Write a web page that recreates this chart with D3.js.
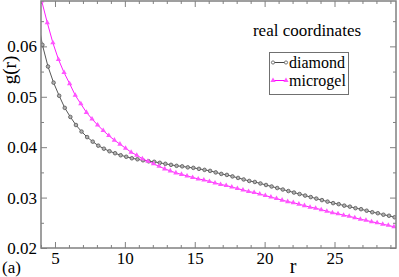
<!DOCTYPE html>
<html>
<meta charset="utf-8">
<head>
<script src="https://cdn.jsdelivr.net/npm/d3@7"></script>
<style>
  body { margin: 0; background: #fff; }
  svg text { font-family: "Liberation Serif", "Times New Roman", "DejaVu Serif", serif !important; fill: #000; }
</style>
</head>
<body>
<div id="chart"></div>
<script>
// g(r) curves
var rDiamond = [3.7, 4.1, 4.5, 4.9, 5.3, 5.7, 6.1, 6.5, 6.9, 7.3, 7.7, 8.1, 8.5, 8.9, 9.3, 9.7,
  10.1, 10.5, 10.9, 11.3, 11.7, 12.1, 12.5, 12.9, 13.3, 13.7, 14.1, 14.5, 14.9, 15.3, 15.7, 16.1,
  16.5, 16.9, 17.3, 17.7, 18.1, 18.5, 18.9, 19.3, 19.7, 20.1, 20.5, 20.9, 21.3, 21.7, 22.1, 22.5,
  22.9, 23.3, 23.7, 24.1, 24.5, 24.9, 25.3, 25.7, 26.1, 26.5, 26.9, 27.3, 27.7, 28.1, 28.5, 28.9, 29.3];
var gDiamond = [0.0662, 0.0603, 0.0560, 0.0528, 0.0502, 0.0478, 0.0460, 0.0444, 0.0431, 0.0420, 0.0411, 0.0403, 0.0397, 0.0392, 0.0388, 0.0384,
  0.0381, 0.0378, 0.0376, 0.0374, 0.0372, 0.0371, 0.0369, 0.0367, 0.0365, 0.0363, 0.0362, 0.0360, 0.0359, 0.0357, 0.0355, 0.0353,
  0.0350, 0.0347, 0.0345, 0.0342, 0.0339, 0.0336, 0.0333, 0.0331, 0.0328, 0.0325, 0.0322, 0.0319, 0.0316, 0.0313, 0.0310, 0.0307,
  0.0304, 0.0301, 0.0298, 0.0295, 0.0292, 0.0289, 0.0287, 0.0284, 0.0282, 0.0279, 0.0277, 0.0274, 0.0271, 0.0269, 0.0266, 0.0264, 0.0261];

var rMicrogel = [3.65, 4.05, 4.45, 4.85, 5.25, 5.65, 6.05, 6.45, 6.85, 7.25, 7.65, 8.05, 8.45, 8.85, 9.25, 9.65,
  10.05, 10.45, 10.85, 11.25, 11.65, 12.05, 12.45, 12.85, 13.25, 13.65, 14.05, 14.45, 14.85, 15.25, 15.65, 16.05,
  16.45, 16.85, 17.25, 17.65, 18.05, 18.45, 18.85, 19.25, 19.65, 20.05, 20.45, 20.85, 21.25, 21.65, 22.05, 22.45,
  22.85, 23.25, 23.65, 24.05, 24.45, 24.85, 25.25, 25.65, 26.05, 26.45, 26.85, 27.25, 27.65, 28.05, 28.45, 28.85, 29.25];
var gMicrogel = [0.0745, 0.0690, 0.0647, 0.0607, 0.0574, 0.0548, 0.0526, 0.0503, 0.0486, 0.0469, 0.0456, 0.0444, 0.0433, 0.0423, 0.0414, 0.0406,
  0.0398, 0.0390, 0.0384, 0.0377, 0.0372, 0.0367, 0.0362, 0.0357, 0.0353, 0.0349, 0.0346, 0.0343, 0.0340, 0.0337, 0.0335, 0.0332,
  0.0329, 0.0326, 0.0324, 0.0321, 0.0318, 0.0315, 0.0312, 0.0310, 0.0307, 0.0304, 0.0301, 0.0298, 0.0295, 0.0292, 0.0290, 0.0287,
  0.0284, 0.0281, 0.0279, 0.0276, 0.0273, 0.0270, 0.0268, 0.0265, 0.0263, 0.0260, 0.0257, 0.0255, 0.0252, 0.0250, 0.0247, 0.0245, 0.0242];

var xMajor = [5, 10, 15, 20, 25];
var yMajor = [0.02, 0.03, 0.04, 0.05, 0.06];

var W = 399, H = 277;
var margin = {top: 1, right: 3, bottom: 29, left: 41};
var width = W - margin.left - margin.right,
    height = H - margin.top - margin.bottom;

var serif = '"Liberation Serif", "Times New Roman", serif';

var svg = d3.select("#chart").append("svg")
    .attr("width", W).attr("height", H);
var g = svg.append("g")
    .attr("transform", "translate(" + margin.left + "," + margin.top + ")");

var x = d3.scaleLinear().domain([4, 29.4]).range([0, width]);
var y = d3.scaleLinear().domain([0.02, 0.069]).range([height, 0]);

var xMinor = d3.range(4, 30).filter(function(v){ return v % 5 != 0; });
var yMinor = [0.025, 0.035, 0.045, 0.055, 0.065];

var axisColor = "#808080";

function styleAxis(sel) {
  sel.attr("font-family", serif);
  sel.select(".domain").remove();
  sel.selectAll("line").attr("stroke", axisColor).attr("stroke-width", 1);
  sel.selectAll("text").style("font-size", "17px").style("font-family", serif).attr("fill", "#000");
}

// bottom
g.append("g").attr("transform", "translate(0," + height + ")")
  .call(d3.axisBottom(x).tickValues(xMajor).tickSize(-6).tickPadding(4).tickFormat(d3.format("d")))
  .call(styleAxis);
g.append("g").attr("transform", "translate(0," + height + ")")
  .call(d3.axisBottom(x).tickValues(xMinor).tickSize(-3).tickFormat(""))
  .call(styleAxis);
// top
g.append("g")
  .call(d3.axisTop(x).tickValues(xMajor).tickSize(-6).tickFormat(""))
  .call(styleAxis);
g.append("g")
  .call(d3.axisTop(x).tickValues(xMinor).tickSize(-3).tickFormat(""))
  .call(styleAxis);
// left
g.append("g")
  .call(d3.axisLeft(y).tickValues(yMajor).tickSize(-6).tickPadding(4).tickFormat(d3.format(".2f")))
  .call(styleAxis);
g.append("g")
  .call(d3.axisLeft(y).tickValues(yMinor).tickSize(-3).tickFormat(""))
  .call(styleAxis);
// right
g.append("g").attr("transform", "translate(" + width + ",0)")
  .call(d3.axisRight(y).tickValues(yMajor).tickSize(-6).tickFormat(""))
  .call(styleAxis);
g.append("g").attr("transform", "translate(" + width + ",0)")
  .call(d3.axisRight(y).tickValues(yMinor).tickSize(-3).tickFormat(""))
  .call(styleAxis);

// clip for data
g.append("clipPath").attr("id", "clip")
  .append("rect").attr("width", width).attr("height", height);

var series = [
  {name: "diamond", r: rDiamond, v: gDiamond, color: "#444", shape: "circle"},
  {name: "microgel", r: rMicrogel, v: gMicrogel, color: "#ff00ff", shape: "triangle"}
];

var line = d3.line().x(function(d){ return x(d[0]); }).y(function(d){ return y(d[1]); });
var tri = d3.symbol().type(d3.symbolTriangle).size(12);

var plot = g.append("g").attr("clip-path", "url(#clip)");

series.forEach(function(s) {
  var pts = d3.zip(s.r, s.v);
  plot.append("path").datum(pts)
    .attr("fill", "none").attr("stroke", s.color).attr("stroke-width", 0.9)
    .attr("d", line);
  if (s.shape == "circle") {
    plot.selectAll(".c").data(pts).enter().append("circle")
      .attr("cx", function(d){ return x(d[0]); })
      .attr("cy", function(d){ return y(d[1]); })
      .attr("r", 1.8)
      .attr("fill", "#b0b0b0").attr("stroke", "#555").attr("stroke-width", 0.8);
  } else {
    plot.selectAll(".t").data(pts).enter().append("path")
      .attr("d", tri)
      .attr("transform", function(d){ return "translate(" + x(d[0]) + "," + y(d[1]) + ")"; })
      .attr("fill", "#ff55ff").attr("stroke", "none");
  }
});

// frame
g.append("rect").attr("width", width).attr("height", height)
  .attr("fill", "none").attr("stroke", axisColor).attr("stroke-width", 1.5);

// axis labels
svg.append("text")
  .attr("transform", "translate(16,70) rotate(-90)")
  .attr("text-anchor", "middle")
  .style("font-family", serif)
  .style("font-size", "19px")
  .text("g(r)");
svg.append("text")
  .attr("x", 293).attr("y", 273)
  .attr("text-anchor", "middle")
  .style("font-family", serif)
  .style("font-size", "20px")
  .text("r");
svg.append("text")
  .attr("x", 2).attr("y", 273)
  .style("font-family", serif)
  .style("font-size", "17px")
  .text("(a)");

// annotation + legend
svg.append("text")
  .attr("x", 307).attr("y", 36)
  .attr("text-anchor", "middle")
  .style("font-family", serif)
  .style("font-size", "17px")
  .text("real coordinates");

var legend = svg.append("g");
legend.append("rect")
  .attr("x", 269.5).attr("y", 52.5).attr("width", 79).attr("height", 42)
  .attr("fill", "#fff").attr("stroke", "#707070").attr("stroke-width", 1);

var legY = [62.5, 80.5];
series.forEach(function(s, i) {
  var row = legend.append("g").attr("transform", "translate(0," + legY[i] + ")");
  row.append("line").attr("x1", 273).attr("x2", 286).attr("y1", 0).attr("y2", 0)
    .attr("stroke", s.color).attr("stroke-width", 1);
  [273, 286].forEach(function(px) {
    if (s.shape == "circle") {
      row.append("circle").attr("cx", px).attr("cy", 0).attr("r", 1.6)
        .attr("fill", "#fff").attr("stroke", "#555").attr("stroke-width", 0.8);
    } else {
      row.append("path").attr("d", tri).attr("transform", "translate(" + px + ",0)")
        .attr("fill", "#ff55ff");
    }
  });
  row.append("text").attr("x", 289).attr("y", 5.5)
    .style("font-family", serif)
    .style("font-size", "16px")
    .text(s.name);
});
</script>
</body>
</html>
